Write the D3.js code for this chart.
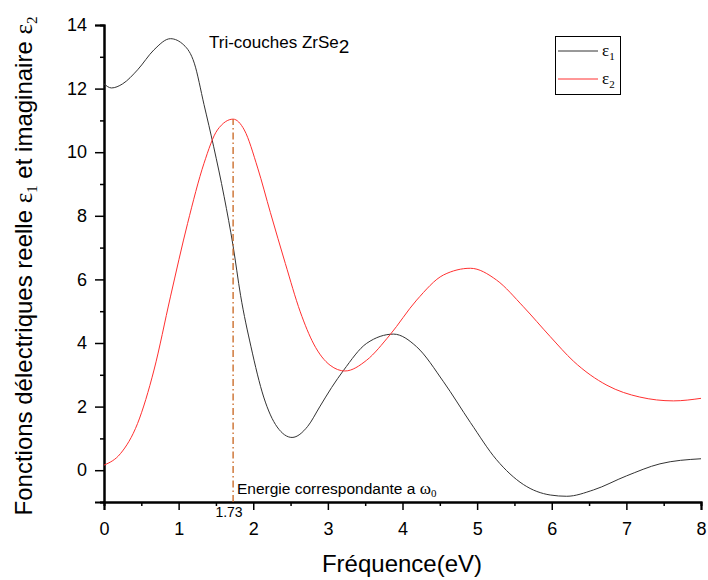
<!DOCTYPE html>
<html><head><meta charset="utf-8">
<script src="https://cdn.jsdelivr.net/npm/d3@7"></script>
<style>body{margin:0;background:#fff}svg{display:block}</style>
</head><body>
<svg id="c" width="708" height="580"></svg>
<script>
const eps1X = [0,0.1,0.25,0.45,0.67,0.89,1.07,1.21,1.34,1.47,1.61,1.73,1.83,1.97,2.14,2.32,2.52,2.73,2.89,3.05,3.21,3.52,3.88,4.19,4.55,4.91,5.26,5.62,5.98,6.2,6.56,7.0,7.45,8.0];
const eps1Y = [12.15,12.02,12.15,12.59,13.22,13.57,13.37,12.8,11.5,10.17,8.6,7.05,5.5,3.88,2.3,1.36,1.03,1.38,1.99,2.6,3.14,3.99,4.28,3.88,2.78,1.5,0.33,-0.45,-0.78,-0.82,-0.62,-0.18,0.2,0.36];
const eps2X = [0,0.22,0.45,0.67,0.89,1.12,1.34,1.52,1.73,1.88,2.06,2.23,2.43,2.63,2.81,3.03,3.23,3.52,3.83,4.19,4.55,4.91,5.26,5.62,5.98,6.29,6.74,7.18,7.63,8.0];
const eps2Y = [0.16,0.52,1.47,3.15,5.45,7.76,9.65,10.7,11.04,10.7,9.5,8.1,6.5,4.98,3.97,3.3,3.12,3.46,4.25,5.35,6.14,6.35,5.98,5.14,4.2,3.43,2.67,2.3,2.18,2.26];
const xTicks = [0,1,2,3,4,5,6,7,8];
const yTicks = [0,2,4,6,8,10,12,14];
const markX = 1.73;
const markY = 11.04;

const svg = d3.select('#c');
const x = d3.scaleLinear().domain([0,8]).range([104,701]);
const y = d3.scaleLinear().domain([-1,14]).range([502,25]);
const sans = 'Arial, "Liberation Sans", sans-serif';
const serif = '"Times New Roman", "Liberation Serif", serif';

// axes
const xAxis = d3.axisBottom(x).tickValues(xTicks).tickSize(8).tickPadding(12).tickFormat(d3.format('d'));
svg.append('g').attr('transform','translate(0,502)').call(xAxis);
const xMinor = d3.axisBottom(x).tickValues(d3.range(0.5,8,1)).tickSize(4).tickFormat('');
svg.append('g').attr('transform','translate(0,502)').call(xMinor);
const yAxis = d3.axisLeft(y).tickValues(yTicks).tickSize(9).tickPadding(8);
svg.append('g').attr('transform','translate(104,0)').call(yAxis);
const yMinor = d3.axisLeft(y).tickValues(d3.range(-1,14,2)).tickSize(4).tickFormat('');
svg.append('g').attr('transform','translate(104,0)').call(yMinor);
svg.selectAll('.domain').attr('stroke','#000').attr('stroke-width',2);
svg.selectAll('.tick line').attr('stroke','#000').attr('stroke-width',1.5);
svg.selectAll('.tick text').attr('font-family',sans).attr('font-size',18).attr('fill','#000');

// curves
const line = d3.line().x(d=>x(d[0])).y(d=>y(d[1])).curve(d3.curveMonotoneX);
svg.append('path').datum(eps1X.map((v,i)=>[v,eps1Y[i]])).attr('d',line)
  .attr('fill','none').attr('stroke','#333').attr('stroke-width',1);
svg.append('path').datum(eps2X.map((v,i)=>[v,eps2Y[i]])).attr('d',line)
  .attr('fill','none').attr('stroke','#ff3030').attr('stroke-width',1);

// marker line
svg.append('line').attr('x1',x(markX)).attr('x2',x(markX)).attr('y1',y(-1)).attr('y2',y(markY))
  .attr('stroke','#c8641e').attr('stroke-width',1.3).attr('stroke-dasharray','7,3,1.5,3');
svg.append('text').attr('x',229).attr('y',517).attr('text-anchor','middle')
  .attr('font-family',sans).attr('font-size',14).text('1.73');

// annotation
const ann = svg.append('text').attr('x',237).attr('y',494).attr('font-family',sans).attr('font-size',15.5);
ann.append('tspan').text('Energie correspondante a ');
ann.append('tspan').attr('font-family',serif).attr('font-size',17).text('ω');
ann.append('tspan').attr('font-family',serif).attr('font-size',11).attr('dy',3).text('0');

// title
const t = svg.append('text').attr('x',209).attr('y',48).attr('font-family',sans).attr('font-size',17);
t.append('tspan').text('Tri-couches ZrSe');
t.append('tspan').attr('dy',5).attr('font-size',19).text('2');

// legend
svg.append('rect').attr('x',555.5).attr('y',36.5).attr('width',65).attr('height',58)
  .attr('fill','none').attr('stroke','#000').attr('stroke-width',1);
const leg = [['#333','1',51],['#ff3030','2',79]];
leg.forEach(l=>{
  svg.append('line').attr('x1',558).attr('x2',598).attr('y1',l[2]).attr('y2',l[2]).attr('stroke',l[0]).attr('stroke-width',1);
  const tt = svg.append('text').attr('x',602).attr('y',l[2]+5).attr('font-family',serif).attr('font-size',17);
  tt.append('tspan').text('ε');
  tt.append('tspan').attr('font-size',11).attr('dy',4).text(l[1]);
});

// axis labels
svg.append('text').attr('x',402).attr('y',572).attr('text-anchor','middle')
  .attr('font-family',sans).attr('font-size',24).text('Fréquence(eV)');
const yl = svg.append('text').attr('transform','translate(32,266) rotate(-90)').attr('text-anchor','middle')
  .attr('font-family',sans).attr('font-size',24);
yl.append('tspan').text('Fonctions délectriques reelle ');
yl.append('tspan').attr('font-family',serif).attr('font-size',25).text('ε');
yl.append('tspan').attr('font-family',serif).attr('font-size',15).attr('dy',5).text('1');
yl.append('tspan').attr('dy',-5).text(' et imaginaire ');
yl.append('tspan').attr('font-family',serif).attr('font-size',25).text('ε');
yl.append('tspan').attr('font-family',serif).attr('font-size',15).attr('dy',5).text('2');
</script>
</body></html>
